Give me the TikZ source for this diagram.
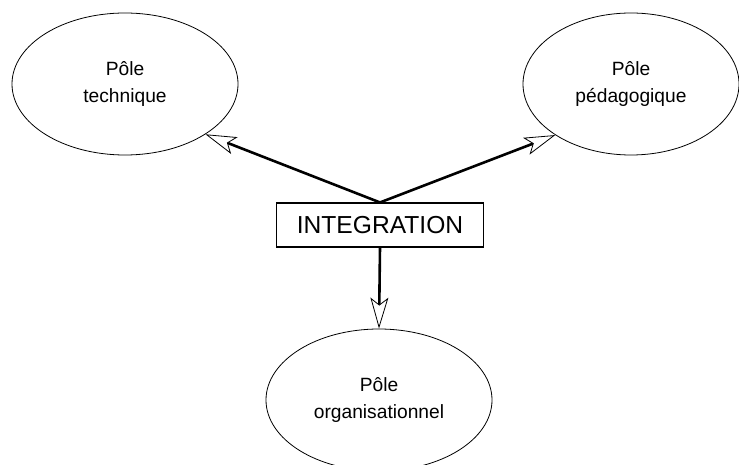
\documentclass[tikz,border=0pt]{standalone}
\usepackage{fontspec}
\setmainfont{Liberation Sans}
\usetikzlibrary{positioning}
\usetikzlibrary{shapes.geometric}
\usetikzlibrary{arrows.meta}

\begin{document}
\begin{tikzpicture}[x=1pt,y=-1pt,
 pole/.style={ellipse,draw,line width=0.8pt,minimum width=226pt,minimum height=142pt,inner sep=0pt,align=center,font=\fontsize{19.2}{27}\selectfont},
 boite/.style={draw,line width=1.1pt,minimum width=207pt,minimum height=44pt,inner sep=0pt,font=\fontsize{24.6}{29}\selectfont},
 fleche/.style={line width=2.6pt,-{Stealth[open,fill=white,line width=0.8pt,length=31pt,width=18pt,inset=7pt]}}]
 \useasboundingbox (0,0) rectangle (739,465);
 \clip (0,0) rectangle (739,465);
 \node[pole] (tech) at (125,84) {Pôle\\technique};
 \node[pole,minimum width=216pt] (peda) at (631,84) {Pôle\\pédagogique};
 \node[boite] (integ) at (380,225) {INTEGRATION};
 \node[pole] (orga) at (379,400) {Pôle\\organisationnel};
 \draw[fleche] (integ.north) -- (tech.-32);
 \draw[fleche] (integ.north) -- (peda.-146);
 \draw[fleche] (integ.south) -- (orga.north);
\end{tikzpicture}
\end{document}
